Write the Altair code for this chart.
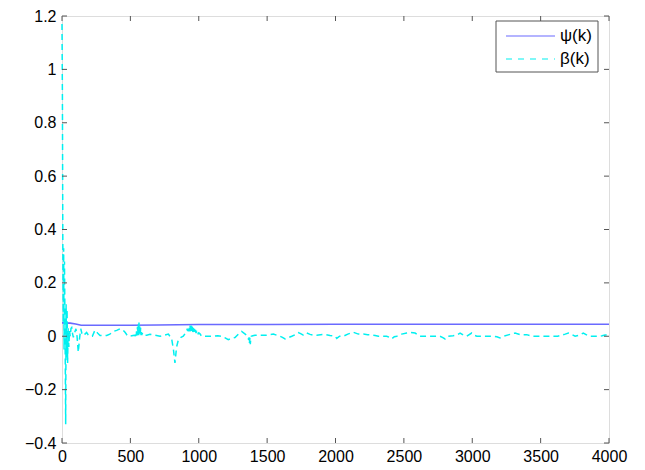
import altair as alt
import pandas as pd

# beta(k) trace
k_beta = [0, 3, 6, 9, 12, 15, 18, 21, 24, 27, 30, 33, 37, 41, 45, 50, 55, 60, 66, 71, 77, 83, 90, 102, 110, 119, 128, 137, 146, 156, 168, 180, 192, 205, 222, 241, 260, 278, 300, 327, 350, 375, 400, 424, 445, 461, 475, 485, 510,
          534, 537, 540, 543, 546, 549, 552, 555, 558, 561, 563, 566, 569, 572, 575, 578, 581, 584, 587, 590, 595,
          620, 643, 680, 717, 750, 778, 802, 815, 826, 838, 851, 870, 887, 900,
          912, 916, 920, 924, 928, 932, 936, 940, 944, 948, 952, 956, 960, 964, 968, 972, 976, 980, 984, 988, 992, 996, 1000, 1009,
          1021, 1060, 1107, 1140, 1168, 1190, 1216, 1240, 1265, 1290, 1314, 1335, 1351,
          1362, 1365, 1368, 1371, 1374, 1377, 1380, 1384, 1395,
          1411, 1450, 1497, 1520, 1546, 1570, 1594, 1612, 1631, 1655, 1680, 1705, 1728, 1745, 1765, 1790, 1814, 1838, 1863, 1890, 1923, 1960, 1997, 2009, 2030, 2057, 2090, 2130, 2167, 2204, 2235, 2265, 2290, 2313, 2345, 2374, 2395, 2411, 2430, 2448, 2484, 2521, 2550, 2582, 2618, 2660, 2704, 2735, 2764, 2785, 2801, 2812, 2825, 2860, 2886, 2911, 2935, 2960, 2996, 3015, 3033, 3070, 3106, 3130, 3155, 3180, 3203, 3215, 3228, 3270, 3313, 3350, 3398, 3435, 3480, 3532, 3560, 3593, 3625, 3654, 3680, 3703, 3730, 3752, 3780, 3812, 3840, 3861, 3890, 3922, 3950, 3971, 4000]
beta_vals = [1.17, 0.9, 0.35, 0.05, 0.33, -0.05, 0.28, 0.1, -0.1, -0.33, 0.12, -0.08, 0.1, -0.1, 0.03, -0.04, 0.02, 0.0, 0.03, 0.033, 0.01, -0.004, 0.01, 0.028, 0.0, -0.06, -0.01, 0.028, 0.01, 0.002, 0.008, 0.014, 0.005, 0.0, 0.0, 0.023, 0.012, 0.003, 0.002, 0.003, 0.008, 0.018, 0.022, 0.028, 0.024, 0.015, 0.005, 0.0, 0.002,
             0.004, 0.0, 0.012, 0.002, 0.025, 0.003, 0.035, 0.004, 0.045, 0.004, 0.051, 0.004, 0.042, 0.004, 0.032, 0.004, 0.022, 0.004, 0.013, 0.004, 0.004,
             0.004, 0.007, 0.004, 0.0, 0.004, 0.008, -0.01, -0.05, -0.10, -0.04, -0.013, -0.004, 0.0, 0.01,
             0.02, 0.028, 0.019, 0.034, 0.018, 0.04, 0.043, 0.017, 0.04, 0.016, 0.036, 0.015, 0.032, 0.014, 0.028, 0.013, 0.024, 0.012, 0.02, 0.011, 0.016, 0.01, 0.013, 0.009,
             0.0, 0.0, 0.0, 0.002, 0.0, -0.005, -0.013, -0.008, -0.005, 0.008, 0.018, 0.01, 0.004,
             -0.005, -0.015, -0.004, -0.025, -0.006, -0.03, -0.01, 0.0, 0.002,
             0.004, 0.004, 0.004, 0.006, 0.008, 0.004, 0.0, -0.004, -0.01, -0.005, 0.0, 0.006, 0.014, 0.01, 0.004, 0.012, 0.007, 0.004, 0.004, 0.006, 0.007, 0.003, 0.0, -0.008, 0.0, 0.0, 0.008, 0.015, 0.008, 0.008, 0.006, 0.005, 0.003, 0.0, 0.0, 0.0, -0.004, -0.01, -0.002, 0.0, 0.008, 0.012, 0.014, 0.012, 0.0, 0.0, 0.0, 0.0, 0.0, -0.005, -0.01, -0.003, 0.0, 0.002, 0.004, 0.012, 0.004, 0.0, 0.012, 0.004, 0.0, 0.0, 0.0, 0.0, 0.0, -0.002, -0.006, -0.003, 0.0, 0.006, 0.012, 0.006, 0.006, 0.0, 0.0, 0.0, 0.0, 0.0, 0.0, 0.004, 0.008, 0.012, 0.006, 0.0, 0.004, 0.012, 0.004, 0.0, 0.0, 0.0, 0.002, 0.005, 0.004]

# psi(k) trace
k_psi = [0, 60, 100, 140, 300, 500, 700, 1000, 1500, 2000, 3000, 4000]
psi_vals = [0.05, 0.049, 0.046, 0.041, 0.041, 0.041, 0.042, 0.044, 0.044, 0.045, 0.045, 0.045]

x_ticks = [0, 500, 1000, 1500, 2000, 2500, 3000, 3500, 4000]
y_ticks = [-0.4, -0.2, 0, 0.2, 0.4, 0.6, 0.8, 1, 1.2]

series_names = ["\u03c8(k)", "\u03b2(k)"]

W, H = 547, 427
FONT = "Liberation Sans"
FS = 16
FRAME = "#555555"
BLUE = "#6a6aff"
CYAN = "#00f0f0"

xs = alt.Scale(domain=[0, 4000], nice=False, zero=False)
ys = alt.Scale(domain=[-0.4, 1.2], nice=False, zero=False)

x_axis = alt.Axis(values=x_ticks, grid=False, domain=False, tickSize=0, labelPadding=5,
                  labelFlush=False, labelOverlap=False,
                  labelFont=FONT, labelFontSize=FS, labelColor="black", title=None, format="d")
y_axis = alt.Axis(values=y_ticks, grid=False, domain=False, tickSize=0, labelPadding=6,
                  labelFlush=False, labelOverlap=False,
                  labelFont=FONT, labelFontSize=FS, labelColor="black", title=None, format="~g")

beta_df = pd.DataFrame({"k": k_beta, "v": beta_vals})
psi_df = pd.DataFrame({"k": k_psi, "v": psi_vals})

psi_line = alt.Chart(psi_df).mark_line(color=BLUE, strokeWidth=1.6).encode(
    x=alt.X("k:Q", scale=xs, axis=x_axis),
    y=alt.Y("v:Q", scale=ys, axis=y_axis),
)
beta_line = alt.Chart(beta_df).mark_line(color=CYAN, strokeWidth=1.5, strokeDash=[6, 4]).encode(
    x=alt.X("k:Q", scale=xs),
    y=alt.Y("v:Q", scale=ys),
)

xt = pd.DataFrame({"t": x_ticks})
yt = pd.DataFrame({"t": y_ticks})
tick_b = alt.Chart(xt).mark_rule(color=FRAME).encode(
    x=alt.X("t:Q", scale=xs), y=alt.value(H), y2=alt.value(H - 5))
tick_t = alt.Chart(xt).mark_rule(color=FRAME).encode(
    x=alt.X("t:Q", scale=xs), y=alt.value(0), y2=alt.value(5))
tick_l = alt.Chart(yt).mark_rule(color=FRAME).encode(
    y=alt.Y("t:Q", scale=ys), x=alt.value(0), x2=alt.value(5))
tick_r = alt.Chart(yt).mark_rule(color=FRAME).encode(
    y=alt.Y("t:Q", scale=ys), x=alt.value(W), x2=alt.value(W - 5))

one = pd.DataFrame({"a": [0]})
leg_box = alt.Chart(one).mark_rect(fill="white", stroke=FRAME, strokeWidth=1).encode(
    x=alt.value(434), x2=alt.value(536), y=alt.value(5), y2=alt.value(56))
leg_psi = alt.Chart(one).mark_rule(color=BLUE, strokeWidth=1.2).encode(
    x=alt.value(444), x2=alt.value(493), y=alt.value(20))
leg_beta = alt.Chart(one).mark_rule(color=CYAN, strokeWidth=1.2, strokeDash=[6, 6]).encode(
    x=alt.value(444), x2=alt.value(493), y=alt.value(43))
leg_txt1 = alt.Chart(one).mark_text(text=series_names[0], font=FONT, fontSize=17, align="left",
                                      baseline="middle", color="black").encode(
    x=alt.value(498), y=alt.value(20))
leg_txt2 = alt.Chart(one).mark_text(text=series_names[1], font=FONT, fontSize=17, align="left",
                                      baseline="middle", color="black").encode(
    x=alt.value(498), y=alt.value(43))

chart = alt.layer(
    psi_line, beta_line, tick_b, tick_t, tick_l, tick_r,
    leg_box, leg_psi, leg_beta, leg_txt1, leg_txt2,
).properties(
    width=W, height=H,
    autosize=alt.AutoSizeParams(type="none"),
    padding={"left": 54, "top": 8, "right": 28, "bottom": 25},
).configure_view(stroke=FRAME, strokeWidth=1).configure(background="white")

chart.save("out.html", embed_options={"renderer": "svg", "actions": False})
